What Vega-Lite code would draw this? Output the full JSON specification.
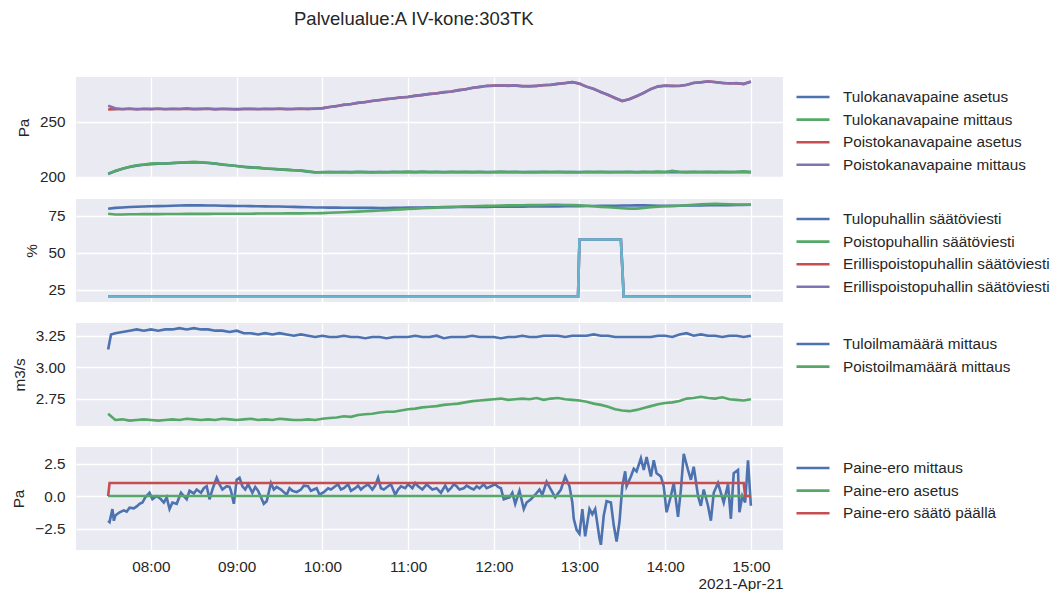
{
  "$schema": "https://vega.github.io/schema/vega-lite/v6.json",
  "background": "white",
  "padding": {"left": 11, "top": 9, "right": 5, "bottom": 2},
  "title": {
    "text": "Palvelualue:A IV-kone:303TK",
    "anchor": "start",
    "frame": "group",
    "dx": 218,
    "offset": 48,
    "font": "Liberation Sans",
    "fontSize": 18.5,
    "fontWeight": "normal",
    "color": "#262626"
  },
  "config": {
    "font": "Liberation Sans",
    "view": {"fill": "#EAEAF2", "stroke": null},
    "axis": {
      "domain": false,
      "ticks": false,
      "grid": true,
      "gridColor": "#FFFFFF",
      "gridWidth": 1.3,
      "labelFont": "Liberation Sans",
      "labelFontSize": 15.3,
      "labelColor": "#262626",
      "titleFont": "Liberation Sans",
      "titleFontSize": 15.3,
      "titleFontWeight": "normal",
      "titleColor": "#262626"
    },
    "axisY": {"labelPadding": 11, "titlePadding": 8},
    "legend": {
      "orient": "none",
      "title": null,
      "symbolType": "stroke",
      "symbolSize": 1089,
      "symbolStrokeWidth": 2.4,
      "clipHeight": 20,
      "rowPadding": 2.6,
      "labelOffset": 12,
      "labelFont": "Liberation Sans",
      "labelFontSize": 15.3,
      "labelColor": "#262626",
      "labelLimit": 400,
      "padding": 0
    },
    "line": {"strokeWidth": 2.6}
  },
  "bounds": "flush",
  "spacing": 21,
  "resolve": {"scale": {"x": "independent", "y": "independent", "color": "independent"}},
  "vconcat": [
    {
      "width": 707,
      "height": 101,
      "data": {
        "format": {"parse": {"t": "date:'%H:%M'"}},
        "values": [
          {"t": "07:30", "Tulokanavapaine asetus": 202.6, "Tulokanavapaine mittaus": 203.0, "Poistokanavapaine asetus": 261.0, "Poistokanavapaine mittaus": 264.5},
          {"t": "07:35", "Tulokanavapaine asetus": 205.2, "Tulokanavapaine mittaus": 205.6, "Poistokanavapaine asetus": 261.4, "Poistokanavapaine mittaus": 262.2},
          {"t": "07:40", "Tulokanavapaine asetus": 207.3, "Tulokanavapaine mittaus": 207.4, "Poistokanavapaine asetus": 261.5, "Poistokanavapaine mittaus": 261.3},
          {"t": "07:45", "Tulokanavapaine asetus": 208.9, "Tulokanavapaine mittaus": 209.1, "Poistokanavapaine asetus": 261.5, "Poistokanavapaine mittaus": 261.9},
          {"t": "07:50", "Tulokanavapaine asetus": 210.2, "Tulokanavapaine mittaus": 210.6, "Poistokanavapaine asetus": 261.5, "Poistokanavapaine mittaus": 261.0},
          {"t": "07:55", "Tulokanavapaine asetus": 211.0, "Tulokanavapaine mittaus": 211.2, "Poistokanavapaine asetus": 261.5, "Poistokanavapaine mittaus": 261.8},
          {"t": "08:00", "Tulokanavapaine asetus": 211.6, "Tulokanavapaine mittaus": 212.0, "Poistokanavapaine asetus": 261.5, "Poistokanavapaine mittaus": 261.4},
          {"t": "08:05", "Tulokanavapaine asetus": 212.0, "Tulokanavapaine mittaus": 212.3, "Poistokanavapaine asetus": 261.5, "Poistokanavapaine mittaus": 262.0},
          {"t": "08:10", "Tulokanavapaine asetus": 212.2, "Tulokanavapaine mittaus": 211.9, "Poistokanavapaine asetus": 261.5, "Poistokanavapaine mittaus": 261.3},
          {"t": "08:15", "Tulokanavapaine asetus": 212.5, "Tulokanavapaine mittaus": 212.6, "Poistokanavapaine asetus": 261.5, "Poistokanavapaine mittaus": 261.7},
          {"t": "08:20", "Tulokanavapaine asetus": 212.8, "Tulokanavapaine mittaus": 213.1, "Poistokanavapaine asetus": 261.5, "Poistokanavapaine mittaus": 261.5},
          {"t": "08:25", "Tulokanavapaine asetus": 213.0, "Tulokanavapaine mittaus": 213.3, "Poistokanavapaine asetus": 261.5, "Poistokanavapaine mittaus": 262.1},
          {"t": "08:30", "Tulokanavapaine asetus": 213.2, "Tulokanavapaine mittaus": 213.7, "Poistokanavapaine asetus": 261.5, "Poistokanavapaine mittaus": 261.4},
          {"t": "08:35", "Tulokanavapaine asetus": 213.0, "Tulokanavapaine mittaus": 213.2, "Poistokanavapaine asetus": 261.5, "Poistokanavapaine mittaus": 261.6},
          {"t": "08:40", "Tulokanavapaine asetus": 212.6, "Tulokanavapaine mittaus": 212.8, "Poistokanavapaine asetus": 261.5, "Poistokanavapaine mittaus": 261.9},
          {"t": "08:45", "Tulokanavapaine asetus": 212.0, "Tulokanavapaine mittaus": 212.2, "Poistokanavapaine asetus": 261.5, "Poistokanavapaine mittaus": 261.2},
          {"t": "08:50", "Tulokanavapaine asetus": 211.3, "Tulokanavapaine mittaus": 211.0, "Poistokanavapaine asetus": 261.5, "Poistokanavapaine mittaus": 261.7},
          {"t": "08:55", "Tulokanavapaine asetus": 210.6, "Tulokanavapaine mittaus": 210.5, "Poistokanavapaine asetus": 261.5, "Poistokanavapaine mittaus": 261.4},
          {"t": "09:00", "Tulokanavapaine asetus": 209.9, "Tulokanavapaine mittaus": 209.8, "Poistokanavapaine asetus": 261.5, "Poistokanavapaine mittaus": 261.0},
          {"t": "09:05", "Tulokanavapaine asetus": 209.2, "Tulokanavapaine mittaus": 209.0, "Poistokanavapaine asetus": 261.5, "Poistokanavapaine mittaus": 261.6},
          {"t": "09:10", "Tulokanavapaine asetus": 208.6, "Tulokanavapaine mittaus": 208.3, "Poistokanavapaine asetus": 261.5, "Poistokanavapaine mittaus": 261.8},
          {"t": "09:15", "Tulokanavapaine asetus": 208.1, "Tulokanavapaine mittaus": 208.6, "Poistokanavapaine asetus": 261.5, "Poistokanavapaine mittaus": 261.3},
          {"t": "09:20", "Tulokanavapaine asetus": 207.6, "Tulokanavapaine mittaus": 207.6, "Poistokanavapaine asetus": 261.5, "Poistokanavapaine mittaus": 261.7},
          {"t": "09:25", "Tulokanavapaine asetus": 207.2, "Tulokanavapaine mittaus": 207.4, "Poistokanavapaine asetus": 261.5, "Poistokanavapaine mittaus": 261.5},
          {"t": "09:30", "Tulokanavapaine asetus": 206.8, "Tulokanavapaine mittaus": 206.8, "Poistokanavapaine asetus": 261.5, "Poistokanavapaine mittaus": 261.9},
          {"t": "09:35", "Tulokanavapaine asetus": 206.4, "Tulokanavapaine mittaus": 206.6, "Poistokanavapaine asetus": 261.5, "Poistokanavapaine mittaus": 261.4},
          {"t": "09:40", "Tulokanavapaine asetus": 206.0, "Tulokanavapaine mittaus": 206.0, "Poistokanavapaine asetus": 261.5, "Poistokanavapaine mittaus": 261.6},
          {"t": "09:45", "Tulokanavapaine asetus": 205.5, "Tulokanavapaine mittaus": 205.9, "Poistokanavapaine asetus": 261.5, "Poistokanavapaine mittaus": 262.0},
          {"t": "09:50", "Tulokanavapaine asetus": 204.8, "Tulokanavapaine mittaus": 205.0, "Poistokanavapaine asetus": 261.6, "Poistokanavapaine mittaus": 261.5},
          {"t": "09:55", "Tulokanavapaine asetus": 204.2, "Tulokanavapaine mittaus": 204.0, "Poistokanavapaine asetus": 261.8, "Poistokanavapaine mittaus": 261.9},
          {"t": "10:00", "Tulokanavapaine asetus": 204.2, "Tulokanavapaine mittaus": 204.3, "Poistokanavapaine asetus": 262.3, "Poistokanavapaine mittaus": 262.1},
          {"t": "10:05", "Tulokanavapaine asetus": 204.3, "Tulokanavapaine mittaus": 204.5, "Poistokanavapaine asetus": 263.3, "Poistokanavapaine mittaus": 263.4},
          {"t": "10:10", "Tulokanavapaine asetus": 204.3, "Tulokanavapaine mittaus": 204.2, "Poistokanavapaine asetus": 264.2, "Poistokanavapaine mittaus": 264.0},
          {"t": "10:15", "Tulokanavapaine asetus": 204.3, "Tulokanavapaine mittaus": 204.4, "Poistokanavapaine asetus": 265.2, "Poistokanavapaine mittaus": 265.5},
          {"t": "10:20", "Tulokanavapaine asetus": 204.3, "Tulokanavapaine mittaus": 204.1, "Poistokanavapaine asetus": 266.0, "Poistokanavapaine mittaus": 265.8},
          {"t": "10:25", "Tulokanavapaine asetus": 204.3, "Tulokanavapaine mittaus": 204.6, "Poistokanavapaine asetus": 267.0, "Poistokanavapaine mittaus": 267.3},
          {"t": "10:30", "Tulokanavapaine asetus": 204.3, "Tulokanavapaine mittaus": 204.3, "Poistokanavapaine asetus": 267.8, "Poistokanavapaine mittaus": 267.6},
          {"t": "10:35", "Tulokanavapaine asetus": 204.3, "Tulokanavapaine mittaus": 204.0, "Poistokanavapaine asetus": 268.7, "Poistokanavapaine mittaus": 269.0},
          {"t": "10:40", "Tulokanavapaine asetus": 204.3, "Tulokanavapaine mittaus": 204.5, "Poistokanavapaine asetus": 269.6, "Poistokanavapaine mittaus": 269.4},
          {"t": "10:45", "Tulokanavapaine asetus": 204.3, "Tulokanavapaine mittaus": 204.2, "Poistokanavapaine asetus": 270.4, "Poistokanavapaine mittaus": 270.7},
          {"t": "10:50", "Tulokanavapaine asetus": 204.3, "Tulokanavapaine mittaus": 204.6, "Poistokanavapaine asetus": 271.2, "Poistokanavapaine mittaus": 271.0},
          {"t": "10:55", "Tulokanavapaine asetus": 204.3, "Tulokanavapaine mittaus": 204.4, "Poistokanavapaine asetus": 271.9, "Poistokanavapaine mittaus": 272.2},
          {"t": "11:00", "Tulokanavapaine asetus": 204.3, "Tulokanavapaine mittaus": 204.8, "Poistokanavapaine asetus": 272.5, "Poistokanavapaine mittaus": 272.4},
          {"t": "11:05", "Tulokanavapaine asetus": 204.3, "Tulokanavapaine mittaus": 204.3, "Poistokanavapaine asetus": 273.4, "Poistokanavapaine mittaus": 273.7},
          {"t": "11:10", "Tulokanavapaine asetus": 204.3, "Tulokanavapaine mittaus": 204.9, "Poistokanavapaine asetus": 274.3, "Poistokanavapaine mittaus": 274.1},
          {"t": "11:15", "Tulokanavapaine asetus": 204.3, "Tulokanavapaine mittaus": 204.5, "Poistokanavapaine asetus": 275.0, "Poistokanavapaine mittaus": 275.3},
          {"t": "11:20", "Tulokanavapaine asetus": 204.3, "Tulokanavapaine mittaus": 204.7, "Poistokanavapaine asetus": 275.8, "Poistokanavapaine mittaus": 275.6},
          {"t": "11:25", "Tulokanavapaine asetus": 204.3, "Tulokanavapaine mittaus": 204.2, "Poistokanavapaine asetus": 276.6, "Poistokanavapaine mittaus": 276.9},
          {"t": "11:30", "Tulokanavapaine asetus": 204.3, "Tulokanavapaine mittaus": 204.6, "Poistokanavapaine asetus": 277.4, "Poistokanavapaine mittaus": 277.2},
          {"t": "11:35", "Tulokanavapaine asetus": 204.3, "Tulokanavapaine mittaus": 204.4, "Poistokanavapaine asetus": 278.4, "Poistokanavapaine mittaus": 278.6},
          {"t": "11:40", "Tulokanavapaine asetus": 204.3, "Tulokanavapaine mittaus": 204.7, "Poistokanavapaine asetus": 279.4, "Poistokanavapaine mittaus": 279.1},
          {"t": "11:45", "Tulokanavapaine asetus": 204.3, "Tulokanavapaine mittaus": 204.3, "Poistokanavapaine asetus": 280.5, "Poistokanavapaine mittaus": 280.8},
          {"t": "11:50", "Tulokanavapaine asetus": 204.3, "Tulokanavapaine mittaus": 204.6, "Poistokanavapaine asetus": 281.6, "Poistokanavapaine mittaus": 281.3},
          {"t": "11:55", "Tulokanavapaine asetus": 204.3, "Tulokanavapaine mittaus": 204.2, "Poistokanavapaine asetus": 282.3, "Poistokanavapaine mittaus": 282.5},
          {"t": "12:00", "Tulokanavapaine asetus": 204.3, "Tulokanavapaine mittaus": 204.5, "Poistokanavapaine asetus": 282.7, "Poistokanavapaine mittaus": 282.6},
          {"t": "12:05", "Tulokanavapaine asetus": 204.3, "Tulokanavapaine mittaus": 204.8, "Poistokanavapaine asetus": 282.8, "Poistokanavapaine mittaus": 283.0},
          {"t": "12:10", "Tulokanavapaine asetus": 204.3, "Tulokanavapaine mittaus": 204.4, "Poistokanavapaine asetus": 282.7, "Poistokanavapaine mittaus": 282.5},
          {"t": "12:15", "Tulokanavapaine asetus": 204.3, "Tulokanavapaine mittaus": 204.6, "Poistokanavapaine asetus": 282.7, "Poistokanavapaine mittaus": 282.9},
          {"t": "12:20", "Tulokanavapaine asetus": 204.3, "Tulokanavapaine mittaus": 204.2, "Poistokanavapaine asetus": 282.3, "Poistokanavapaine mittaus": 282.0},
          {"t": "12:25", "Tulokanavapaine asetus": 204.3, "Tulokanavapaine mittaus": 204.5, "Poistokanavapaine asetus": 282.0, "Poistokanavapaine mittaus": 282.3},
          {"t": "12:30", "Tulokanavapaine asetus": 204.3, "Tulokanavapaine mittaus": 204.3, "Poistokanavapaine asetus": 282.5, "Poistokanavapaine mittaus": 282.3},
          {"t": "12:35", "Tulokanavapaine asetus": 204.3, "Tulokanavapaine mittaus": 204.6, "Poistokanavapaine asetus": 283.0, "Poistokanavapaine mittaus": 283.2},
          {"t": "12:40", "Tulokanavapaine asetus": 204.3, "Tulokanavapaine mittaus": 204.4, "Poistokanavapaine asetus": 283.5, "Poistokanavapaine mittaus": 283.4},
          {"t": "12:45", "Tulokanavapaine asetus": 204.3, "Tulokanavapaine mittaus": 204.7, "Poistokanavapaine asetus": 284.2, "Poistokanavapaine mittaus": 284.5},
          {"t": "12:50", "Tulokanavapaine asetus": 204.3, "Tulokanavapaine mittaus": 204.3, "Poistokanavapaine asetus": 285.0, "Poistokanavapaine mittaus": 284.8},
          {"t": "12:55", "Tulokanavapaine asetus": 204.3, "Tulokanavapaine mittaus": 204.5, "Poistokanavapaine asetus": 285.8, "Poistokanavapaine mittaus": 286.0},
          {"t": "13:00", "Tulokanavapaine asetus": 204.3, "Tulokanavapaine mittaus": 204.2, "Poistokanavapaine asetus": 284.3, "Poistokanavapaine mittaus": 284.6},
          {"t": "13:05", "Tulokanavapaine asetus": 204.3, "Tulokanavapaine mittaus": 204.6, "Poistokanavapaine asetus": 281.8, "Poistokanavapaine mittaus": 281.6},
          {"t": "13:10", "Tulokanavapaine asetus": 204.3, "Tulokanavapaine mittaus": 204.4, "Poistokanavapaine asetus": 279.5, "Poistokanavapaine mittaus": 279.8},
          {"t": "13:15", "Tulokanavapaine asetus": 204.3, "Tulokanavapaine mittaus": 204.7, "Poistokanavapaine asetus": 277.0, "Poistokanavapaine mittaus": 276.7},
          {"t": "13:20", "Tulokanavapaine asetus": 204.3, "Tulokanavapaine mittaus": 204.3, "Poistokanavapaine asetus": 274.2, "Poistokanavapaine mittaus": 274.5},
          {"t": "13:25", "Tulokanavapaine asetus": 204.3, "Tulokanavapaine mittaus": 204.5, "Poistokanavapaine asetus": 271.5, "Poistokanavapaine mittaus": 271.3},
          {"t": "13:30", "Tulokanavapaine asetus": 204.3, "Tulokanavapaine mittaus": 204.4, "Poistokanavapaine asetus": 268.6, "Poistokanavapaine mittaus": 268.9},
          {"t": "13:35", "Tulokanavapaine asetus": 204.3, "Tulokanavapaine mittaus": 204.7, "Poistokanavapaine asetus": 270.5, "Poistokanavapaine mittaus": 270.3},
          {"t": "13:40", "Tulokanavapaine asetus": 204.3, "Tulokanavapaine mittaus": 204.2, "Poistokanavapaine asetus": 273.0, "Poistokanavapaine mittaus": 273.3},
          {"t": "13:45", "Tulokanavapaine asetus": 204.3, "Tulokanavapaine mittaus": 204.6, "Poistokanavapaine asetus": 276.3, "Poistokanavapaine mittaus": 276.0},
          {"t": "13:50", "Tulokanavapaine asetus": 204.3, "Tulokanavapaine mittaus": 204.4, "Poistokanavapaine asetus": 279.5, "Poistokanavapaine mittaus": 279.7},
          {"t": "13:55", "Tulokanavapaine asetus": 204.3, "Tulokanavapaine mittaus": 204.8, "Poistokanavapaine asetus": 282.0, "Poistokanavapaine mittaus": 281.8},
          {"t": "14:00", "Tulokanavapaine asetus": 204.3, "Tulokanavapaine mittaus": 204.5, "Poistokanavapaine asetus": 282.6, "Poistokanavapaine mittaus": 282.8},
          {"t": "14:05", "Tulokanavapaine asetus": 204.3, "Tulokanavapaine mittaus": 205.4, "Poistokanavapaine asetus": 282.5, "Poistokanavapaine mittaus": 282.3},
          {"t": "14:10", "Tulokanavapaine asetus": 204.3, "Tulokanavapaine mittaus": 204.6, "Poistokanavapaine asetus": 282.4, "Poistokanavapaine mittaus": 282.6},
          {"t": "14:15", "Tulokanavapaine asetus": 204.3, "Tulokanavapaine mittaus": 204.3, "Poistokanavapaine asetus": 283.5, "Poistokanavapaine mittaus": 283.3},
          {"t": "14:20", "Tulokanavapaine asetus": 204.3, "Tulokanavapaine mittaus": 204.7, "Poistokanavapaine asetus": 285.0, "Poistokanavapaine mittaus": 285.3},
          {"t": "14:25", "Tulokanavapaine asetus": 204.3, "Tulokanavapaine mittaus": 204.4, "Poistokanavapaine asetus": 285.8, "Poistokanavapaine mittaus": 285.6},
          {"t": "14:30", "Tulokanavapaine asetus": 204.3, "Tulokanavapaine mittaus": 204.6, "Poistokanavapaine asetus": 286.4, "Poistokanavapaine mittaus": 286.6},
          {"t": "14:35", "Tulokanavapaine asetus": 204.3, "Tulokanavapaine mittaus": 204.3, "Poistokanavapaine asetus": 286.0, "Poistokanavapaine mittaus": 285.8},
          {"t": "14:40", "Tulokanavapaine asetus": 204.3, "Tulokanavapaine mittaus": 204.7, "Poistokanavapaine asetus": 285.0, "Poistokanavapaine mittaus": 285.2},
          {"t": "14:45", "Tulokanavapaine asetus": 204.3, "Tulokanavapaine mittaus": 204.4, "Poistokanavapaine asetus": 284.8, "Poistokanavapaine mittaus": 284.6},
          {"t": "14:50", "Tulokanavapaine asetus": 204.3, "Tulokanavapaine mittaus": 204.6, "Poistokanavapaine asetus": 284.7, "Poistokanavapaine mittaus": 285.0},
          {"t": "14:55", "Tulokanavapaine asetus": 204.3, "Tulokanavapaine mittaus": 205.0, "Poistokanavapaine asetus": 284.3, "Poistokanavapaine mittaus": 284.1},
          {"t": "15:00", "Tulokanavapaine asetus": 204.3, "Tulokanavapaine mittaus": 204.3, "Poistokanavapaine asetus": 286.3, "Poistokanavapaine mittaus": 286.5}
        ]
      },
      "transform": [
        {"fold": ["Tulokanavapaine asetus", "Tulokanavapaine mittaus", "Poistokanavapaine asetus", "Poistokanavapaine mittaus"], "as": ["serie", "arvo"]},
        {"filter": "isValid(datum.arvo)"}
      ],
      "mark": {"type": "line"},
      "encoding": {
        "x": {
          "field": "t", "type": "temporal",
          "scale": {"domain": [{"year": 1900, "month": 1, "date": 1, "hours": 7, "minutes": 7, "seconds": 30}, {"year": 1900, "month": 1, "date": 1, "hours": 15, "minutes": 22, "seconds": 30}]},
          "axis": {"labels": false, "title": null, "values": [{"year": 1900, "month": 1, "date": 1, "hours": 8}, {"year": 1900, "month": 1, "date": 1, "hours": 9}, {"year": 1900, "month": 1, "date": 1, "hours": 10}, {"year": 1900, "month": 1, "date": 1, "hours": 11}, {"year": 1900, "month": 1, "date": 1, "hours": 12}, {"year": 1900, "month": 1, "date": 1, "hours": 13}, {"year": 1900, "month": 1, "date": 1, "hours": 14}, {"year": 1900, "month": 1, "date": 1, "hours": 15}]}
        },
        "y": {
          "field": "arvo", "type": "quantitative",
          "scale": {"domain": [199, 290.5], "nice": false, "zero": false},
          "axis": {"title": "Pa", "values": [200, 250]}
        },
        "color": {
          "field": "serie", "type": "nominal",
          "scale": {"domain": ["Tulokanavapaine asetus", "Tulokanavapaine mittaus", "Poistokanavapaine asetus", "Poistokanavapaine mittaus"], "range": ["#4C72B0", "#55A868", "#C44E52", "#8172B2"]},
          "legend": {"legendX": 719, "legendY": 10}
        }
      }
    },
    {
      "width": 707,
      "height": 103,
      "data": {
        "format": {"parse": {"t": "date:'%H:%M'"}},
        "values": [
          {"t": "07:30", "Tulopuhallin säätöviesti": 79.7, "Poistopuhallin säätöviesti": 76.4, "Erillispoistopuhallin säätöviesti 1": 20.5, "Erillispoistopuhallin säätöviesti 2": 20.5, "Erillispoistopuhallin säätöviesti 3": 20.5},
          {"t": "07:35", "Tulopuhallin säätöviesti": 80.3, "Poistopuhallin säätöviesti": 75.9},
          {"t": "07:40", "Tulopuhallin säätöviesti": 80.6, "Poistopuhallin säätöviesti": 75.9},
          {"t": "07:45", "Tulopuhallin säätöviesti": 80.9, "Poistopuhallin säätöviesti": 76.0},
          {"t": "07:50", "Tulopuhallin säätöviesti": 81.1, "Poistopuhallin säätöviesti": 76.0},
          {"t": "07:55", "Tulopuhallin säätöviesti": 81.2, "Poistopuhallin säätöviesti": 76.1},
          {"t": "08:00", "Tulopuhallin säätöviesti": 81.4, "Poistopuhallin säätöviesti": 76.1},
          {"t": "08:05", "Tulopuhallin säätöviesti": 81.5, "Poistopuhallin säätöviesti": 76.1},
          {"t": "08:10", "Tulopuhallin säätöviesti": 81.6, "Poistopuhallin säätöviesti": 76.2},
          {"t": "08:15", "Tulopuhallin säätöviesti": 81.8, "Poistopuhallin säätöviesti": 76.2},
          {"t": "08:20", "Tulopuhallin säätöviesti": 81.9, "Poistopuhallin säätöviesti": 76.2},
          {"t": "08:25", "Tulopuhallin säätöviesti": 82.0, "Poistopuhallin säätöviesti": 76.3},
          {"t": "08:30", "Tulopuhallin säätöviesti": 82.0, "Poistopuhallin säätöviesti": 76.3},
          {"t": "08:35", "Tulopuhallin säätöviesti": 82.0, "Poistopuhallin säätöviesti": 76.3},
          {"t": "08:40", "Tulopuhallin säätöviesti": 81.9, "Poistopuhallin säätöviesti": 76.3},
          {"t": "08:45", "Tulopuhallin säätöviesti": 81.9, "Poistopuhallin säätöviesti": 76.4},
          {"t": "08:50", "Tulopuhallin säätöviesti": 81.8, "Poistopuhallin säätöviesti": 76.4},
          {"t": "08:55", "Tulopuhallin säätöviesti": 81.7, "Poistopuhallin säätöviesti": 76.4},
          {"t": "09:00", "Tulopuhallin säätöviesti": 81.6, "Poistopuhallin säätöviesti": 76.4},
          {"t": "09:05", "Tulopuhallin säätöviesti": 81.6, "Poistopuhallin säätöviesti": 76.4},
          {"t": "09:10", "Tulopuhallin säätöviesti": 81.5, "Poistopuhallin säätöviesti": 76.4},
          {"t": "09:15", "Tulopuhallin säätöviesti": 81.4, "Poistopuhallin säätöviesti": 76.5},
          {"t": "09:20", "Tulopuhallin säätöviesti": 81.3, "Poistopuhallin säätöviesti": 76.5},
          {"t": "09:25", "Tulopuhallin säätöviesti": 81.2, "Poistopuhallin säätöviesti": 76.5},
          {"t": "09:30", "Tulopuhallin säätöviesti": 81.2, "Poistopuhallin säätöviesti": 76.5},
          {"t": "09:35", "Tulopuhallin säätöviesti": 81.1, "Poistopuhallin säätöviesti": 76.6},
          {"t": "09:40", "Tulopuhallin säätöviesti": 81.0, "Poistopuhallin säätöviesti": 76.6},
          {"t": "09:45", "Tulopuhallin säätöviesti": 80.8, "Poistopuhallin säätöviesti": 76.6},
          {"t": "09:50", "Tulopuhallin säätöviesti": 80.7, "Poistopuhallin säätöviesti": 76.7},
          {"t": "09:55", "Tulopuhallin säätöviesti": 80.6, "Poistopuhallin säätöviesti": 76.7},
          {"t": "10:00", "Tulopuhallin säätöviesti": 80.6, "Poistopuhallin säätöviesti": 76.8},
          {"t": "10:05", "Tulopuhallin säätöviesti": 80.5, "Poistopuhallin säätöviesti": 77.0},
          {"t": "10:10", "Tulopuhallin säätöviesti": 80.5, "Poistopuhallin säätöviesti": 77.2},
          {"t": "10:15", "Tulopuhallin säätöviesti": 80.4, "Poistopuhallin säätöviesti": 77.4},
          {"t": "10:20", "Tulopuhallin säätöviesti": 80.4, "Poistopuhallin säätöviesti": 77.6},
          {"t": "10:25", "Tulopuhallin säätöviesti": 80.3, "Poistopuhallin säätöviesti": 77.8},
          {"t": "10:30", "Tulopuhallin säätöviesti": 80.3, "Poistopuhallin säätöviesti": 78.0},
          {"t": "10:35", "Tulopuhallin säätöviesti": 80.3, "Poistopuhallin säätöviesti": 78.3},
          {"t": "10:40", "Tulopuhallin säätöviesti": 80.2, "Poistopuhallin säätöviesti": 78.5},
          {"t": "10:45", "Tulopuhallin säätöviesti": 80.2, "Poistopuhallin säätöviesti": 78.8},
          {"t": "10:50", "Tulopuhallin säätöviesti": 80.3, "Poistopuhallin säätöviesti": 79.1},
          {"t": "10:55", "Tulopuhallin säätöviesti": 80.4, "Poistopuhallin säätöviesti": 79.3},
          {"t": "11:00", "Tulopuhallin säätöviesti": 80.5, "Poistopuhallin säätöviesti": 79.6},
          {"t": "11:05", "Tulopuhallin säätöviesti": 80.6, "Poistopuhallin säätöviesti": 79.8},
          {"t": "11:10", "Tulopuhallin säätöviesti": 80.6, "Poistopuhallin säätöviesti": 80.1},
          {"t": "11:15", "Tulopuhallin säätöviesti": 80.7, "Poistopuhallin säätöviesti": 80.3},
          {"t": "11:20", "Tulopuhallin säätöviesti": 80.7, "Poistopuhallin säätöviesti": 80.5},
          {"t": "11:25", "Tulopuhallin säätöviesti": 80.8, "Poistopuhallin säätöviesti": 80.7},
          {"t": "11:30", "Tulopuhallin säätöviesti": 80.8, "Poistopuhallin säätöviesti": 80.9},
          {"t": "11:35", "Tulopuhallin säätöviesti": 80.9, "Poistopuhallin säätöviesti": 81.1},
          {"t": "11:40", "Tulopuhallin säätöviesti": 80.9, "Poistopuhallin säätöviesti": 81.3},
          {"t": "11:45", "Tulopuhallin säätöviesti": 81.0, "Poistopuhallin säätöviesti": 81.4},
          {"t": "11:50", "Tulopuhallin säätöviesti": 81.0, "Poistopuhallin säätöviesti": 81.6},
          {"t": "11:55", "Tulopuhallin säätöviesti": 81.0, "Poistopuhallin säätöviesti": 81.7},
          {"t": "12:00", "Tulopuhallin säätöviesti": 81.1, "Poistopuhallin säätöviesti": 81.8},
          {"t": "12:05", "Tulopuhallin säätöviesti": 81.1, "Poistopuhallin säätöviesti": 81.9},
          {"t": "12:10", "Tulopuhallin säätöviesti": 81.1, "Poistopuhallin säätöviesti": 82.0},
          {"t": "12:15", "Tulopuhallin säätöviesti": 81.1, "Poistopuhallin säätöviesti": 82.0},
          {"t": "12:20", "Tulopuhallin säätöviesti": 81.1, "Poistopuhallin säätöviesti": 82.1},
          {"t": "12:25", "Tulopuhallin säätöviesti": 81.2, "Poistopuhallin säätöviesti": 82.2},
          {"t": "12:30", "Tulopuhallin säätöviesti": 81.2, "Poistopuhallin säätöviesti": 82.2},
          {"t": "12:35", "Tulopuhallin säätöviesti": 81.2, "Poistopuhallin säätöviesti": 82.3},
          {"t": "12:40", "Tulopuhallin säätöviesti": 81.3, "Poistopuhallin säätöviesti": 82.4},
          {"t": "12:45", "Tulopuhallin säätöviesti": 81.3, "Poistopuhallin säätöviesti": 82.4},
          {"t": "12:50", "Tulopuhallin säätöviesti": 81.4, "Poistopuhallin säätöviesti": 82.3},
          {"t": "12:55", "Tulopuhallin säätöviesti": 81.4, "Poistopuhallin säätöviesti": 82.2},
          {"t": "12:59", "Erillispoistopuhallin säätöviesti 1": 20.5, "Erillispoistopuhallin säätöviesti 2": 20.5, "Erillispoistopuhallin säätöviesti 3": 20.5},
          {"t": "13:00", "Tulopuhallin säätöviesti": 81.5, "Poistopuhallin säätöviesti": 82.0, "Erillispoistopuhallin säätöviesti 1": 59.0, "Erillispoistopuhallin säätöviesti 2": 59.0, "Erillispoistopuhallin säätöviesti 3": 59.0},
          {"t": "13:05", "Tulopuhallin säätöviesti": 81.6, "Poistopuhallin säätöviesti": 81.7},
          {"t": "13:10", "Tulopuhallin säätöviesti": 81.6, "Poistopuhallin säätöviesti": 81.4},
          {"t": "13:15", "Tulopuhallin säätöviesti": 81.7, "Poistopuhallin säätöviesti": 81.0},
          {"t": "13:20", "Tulopuhallin säätöviesti": 81.8, "Poistopuhallin säätöviesti": 80.7},
          {"t": "13:25", "Tulopuhallin säätöviesti": 81.8, "Poistopuhallin säätöviesti": 80.4},
          {"t": "13:29", "Erillispoistopuhallin säätöviesti 1": 59.0, "Erillispoistopuhallin säätöviesti 2": 59.0, "Erillispoistopuhallin säätöviesti 3": 59.0},
          {"t": "13:30", "Tulopuhallin säätöviesti": 81.9, "Poistopuhallin säätöviesti": 80.1},
          {"t": "13:31", "Erillispoistopuhallin säätöviesti 1": 20.5, "Erillispoistopuhallin säätöviesti 2": 20.5, "Erillispoistopuhallin säätöviesti 3": 20.5},
          {"t": "13:35", "Tulopuhallin säätöviesti": 81.9, "Poistopuhallin säätöviesti": 79.8},
          {"t": "13:40", "Tulopuhallin säätöviesti": 82.0, "Poistopuhallin säätöviesti": 79.8},
          {"t": "13:45", "Tulopuhallin säätöviesti": 82.0, "Poistopuhallin säätöviesti": 80.2},
          {"t": "13:50", "Tulopuhallin säätöviesti": 81.9, "Poistopuhallin säätöviesti": 80.7},
          {"t": "13:55", "Tulopuhallin säätöviesti": 81.8, "Poistopuhallin säätöviesti": 81.1},
          {"t": "14:00", "Tulopuhallin säätöviesti": 81.7, "Poistopuhallin säätöviesti": 81.4},
          {"t": "14:05", "Tulopuhallin säätöviesti": 81.7, "Poistopuhallin säätöviesti": 81.6},
          {"t": "14:10", "Tulopuhallin säätöviesti": 81.8, "Poistopuhallin säätöviesti": 81.8},
          {"t": "14:15", "Tulopuhallin säätöviesti": 81.9, "Poistopuhallin säätöviesti": 82.1},
          {"t": "14:20", "Tulopuhallin säätöviesti": 82.0, "Poistopuhallin säätöviesti": 82.4},
          {"t": "14:25", "Tulopuhallin säätöviesti": 82.0, "Poistopuhallin säätöviesti": 82.7},
          {"t": "14:30", "Tulopuhallin säätöviesti": 82.1, "Poistopuhallin säätöviesti": 82.9},
          {"t": "14:35", "Tulopuhallin säätöviesti": 82.1, "Poistopuhallin säätöviesti": 83.0},
          {"t": "14:40", "Tulopuhallin säätöviesti": 82.2, "Poistopuhallin säätöviesti": 82.9},
          {"t": "14:45", "Tulopuhallin säätöviesti": 82.2, "Poistopuhallin säätöviesti": 82.8},
          {"t": "14:50", "Tulopuhallin säätöviesti": 82.3, "Poistopuhallin säätöviesti": 82.6},
          {"t": "14:55", "Tulopuhallin säätöviesti": 82.3, "Poistopuhallin säätöviesti": 82.5},
          {"t": "15:00", "Tulopuhallin säätöviesti": 82.4, "Poistopuhallin säätöviesti": 82.5, "Erillispoistopuhallin säätöviesti 1": 20.5, "Erillispoistopuhallin säätöviesti 2": 20.5, "Erillispoistopuhallin säätöviesti 3": 20.5}
        ]
      },
      "transform": [
        {"fold": ["Tulopuhallin säätöviesti", "Poistopuhallin säätöviesti", "Erillispoistopuhallin säätöviesti 1", "Erillispoistopuhallin säätöviesti 2", "Erillispoistopuhallin säätöviesti 3"], "as": ["serie", "arvo"]},
        {"filter": "isValid(datum.arvo)"}
      ],
      "mark": {"type": "line"},
      "encoding": {
        "x": {
          "field": "t", "type": "temporal",
          "scale": {"domain": [{"year": 1900, "month": 1, "date": 1, "hours": 7, "minutes": 7, "seconds": 30}, {"year": 1900, "month": 1, "date": 1, "hours": 15, "minutes": 22, "seconds": 30}]},
          "axis": {"labels": false, "title": null, "values": [{"year": 1900, "month": 1, "date": 1, "hours": 8}, {"year": 1900, "month": 1, "date": 1, "hours": 9}, {"year": 1900, "month": 1, "date": 1, "hours": 10}, {"year": 1900, "month": 1, "date": 1, "hours": 11}, {"year": 1900, "month": 1, "date": 1, "hours": 12}, {"year": 1900, "month": 1, "date": 1, "hours": 13}, {"year": 1900, "month": 1, "date": 1, "hours": 14}, {"year": 1900, "month": 1, "date": 1, "hours": 15}]}
        },
        "y": {
          "field": "arvo", "type": "quantitative",
          "scale": {"domain": [16.9, 86.3], "nice": false, "zero": false},
          "axis": {"title": "%", "values": [25, 50, 75]}
        },
        "color": {
          "field": "serie", "type": "nominal",
          "scale": {"domain": ["Tulopuhallin säätöviesti", "Poistopuhallin säätöviesti", "Erillispoistopuhallin säätöviesti 1", "Erillispoistopuhallin säätöviesti 2", "Erillispoistopuhallin säätöviesti 3"], "range": ["#4C72B0", "#55A868", "#C44E52", "#8172B2", "#64B5CD"]},
          "legend": {
            "legendX": 719, "legendY": 10,
            "values": ["Tulopuhallin säätöviesti", "Poistopuhallin säätöviesti", "Erillispoistopuhallin säätöviesti 1", "Erillispoistopuhallin säätöviesti 2"],
            "labelExpr": "replace(datum.label, regexp(' [0-9]$'), '')"
          }
        }
      }
    },
    {
      "width": 707,
      "height": 103,
      "data": {
        "format": {"parse": {"t": "date:'%H:%M'"}},
        "values": [
          {"t": "07:30", "Tuloilmamäärä mittaus": 3.14, "Poistoilmamäärä mittaus": 2.63},
          {"t": "07:32", "Tuloilmamäärä mittaus": 3.26, "Poistoilmamäärä mittaus": 2.61},
          {"t": "07:35", "Tuloilmamäärä mittaus": 3.27, "Poistoilmamäärä mittaus": 2.58},
          {"t": "07:40", "Tuloilmamäärä mittaus": 3.28, "Poistoilmamäärä mittaus": 2.585},
          {"t": "07:45", "Tuloilmamäärä mittaus": 3.29, "Poistoilmamäärä mittaus": 2.575},
          {"t": "07:50", "Tuloilmamäärä mittaus": 3.30, "Poistoilmamäärä mittaus": 2.58},
          {"t": "07:55", "Tuloilmamäärä mittaus": 3.29, "Poistoilmamäärä mittaus": 2.585},
          {"t": "08:00", "Tuloilmamäärä mittaus": 3.30, "Poistoilmamäärä mittaus": 2.58},
          {"t": "08:05", "Tuloilmamäärä mittaus": 3.29, "Poistoilmamäärä mittaus": 2.575},
          {"t": "08:10", "Tuloilmamäärä mittaus": 3.30, "Poistoilmamäärä mittaus": 2.58},
          {"t": "08:15", "Tuloilmamäärä mittaus": 3.30, "Poistoilmamäärä mittaus": 2.585},
          {"t": "08:20", "Tuloilmamäärä mittaus": 3.31, "Poistoilmamäärä mittaus": 2.58},
          {"t": "08:25", "Tuloilmamäärä mittaus": 3.30, "Poistoilmamäärä mittaus": 2.59},
          {"t": "08:30", "Tuloilmamäärä mittaus": 3.31, "Poistoilmamäärä mittaus": 2.585},
          {"t": "08:35", "Tuloilmamäärä mittaus": 3.30, "Poistoilmamäärä mittaus": 2.58},
          {"t": "08:40", "Tuloilmamäärä mittaus": 3.30, "Poistoilmamäärä mittaus": 2.585},
          {"t": "08:45", "Tuloilmamäärä mittaus": 3.29, "Poistoilmamäärä mittaus": 2.58},
          {"t": "08:50", "Tuloilmamäärä mittaus": 3.29, "Poistoilmamäärä mittaus": 2.59},
          {"t": "08:55", "Tuloilmamäärä mittaus": 3.28, "Poistoilmamäärä mittaus": 2.585},
          {"t": "09:00", "Tuloilmamäärä mittaus": 3.29, "Poistoilmamäärä mittaus": 2.58},
          {"t": "09:05", "Tuloilmamäärä mittaus": 3.27, "Poistoilmamäärä mittaus": 2.585},
          {"t": "09:10", "Tuloilmamäärä mittaus": 3.27, "Poistoilmamäärä mittaus": 2.59},
          {"t": "09:15", "Tuloilmamäärä mittaus": 3.26, "Poistoilmamäärä mittaus": 2.58},
          {"t": "09:20", "Tuloilmamäärä mittaus": 3.27, "Poistoilmamäärä mittaus": 2.585},
          {"t": "09:25", "Tuloilmamäärä mittaus": 3.26, "Poistoilmamäärä mittaus": 2.58},
          {"t": "09:30", "Tuloilmamäärä mittaus": 3.27, "Poistoilmamäärä mittaus": 2.59},
          {"t": "09:35", "Tuloilmamäärä mittaus": 3.26, "Poistoilmamäärä mittaus": 2.585},
          {"t": "09:40", "Tuloilmamäärä mittaus": 3.25, "Poistoilmamäärä mittaus": 2.58},
          {"t": "09:45", "Tuloilmamäärä mittaus": 3.26, "Poistoilmamäärä mittaus": 2.58},
          {"t": "09:50", "Tuloilmamäärä mittaus": 3.25, "Poistoilmamäärä mittaus": 2.585},
          {"t": "09:55", "Tuloilmamäärä mittaus": 3.24, "Poistoilmamäärä mittaus": 2.58},
          {"t": "10:00", "Tuloilmamäärä mittaus": 3.25, "Poistoilmamäärä mittaus": 2.59},
          {"t": "10:05", "Tuloilmamäärä mittaus": 3.24, "Poistoilmamäärä mittaus": 2.595},
          {"t": "10:10", "Tuloilmamäärä mittaus": 3.24, "Poistoilmamäärä mittaus": 2.60},
          {"t": "10:15", "Tuloilmamäärä mittaus": 3.25, "Poistoilmamäärä mittaus": 2.61},
          {"t": "10:20", "Tuloilmamäärä mittaus": 3.24, "Poistoilmamäärä mittaus": 2.605},
          {"t": "10:25", "Tuloilmamäärä mittaus": 3.24, "Poistoilmamäärä mittaus": 2.62},
          {"t": "10:30", "Tuloilmamäärä mittaus": 3.23, "Poistoilmamäärä mittaus": 2.625},
          {"t": "10:35", "Tuloilmamäärä mittaus": 3.24, "Poistoilmamäärä mittaus": 2.63},
          {"t": "10:40", "Tuloilmamäärä mittaus": 3.24, "Poistoilmamäärä mittaus": 2.64},
          {"t": "10:45", "Tuloilmamäärä mittaus": 3.23, "Poistoilmamäärä mittaus": 2.645},
          {"t": "10:50", "Tuloilmamäärä mittaus": 3.24, "Poistoilmamäärä mittaus": 2.645},
          {"t": "10:55", "Tuloilmamäärä mittaus": 3.24, "Poistoilmamäärä mittaus": 2.655},
          {"t": "11:00", "Tuloilmamäärä mittaus": 3.24, "Poistoilmamäärä mittaus": 2.665},
          {"t": "11:05", "Tuloilmamäärä mittaus": 3.25, "Poistoilmamäärä mittaus": 2.67},
          {"t": "11:10", "Tuloilmamäärä mittaus": 3.24, "Poistoilmamäärä mittaus": 2.68},
          {"t": "11:15", "Tuloilmamäärä mittaus": 3.24, "Poistoilmamäärä mittaus": 2.685},
          {"t": "11:20", "Tuloilmamäärä mittaus": 3.25, "Poistoilmamäärä mittaus": 2.69},
          {"t": "11:25", "Tuloilmamäärä mittaus": 3.23, "Poistoilmamäärä mittaus": 2.70},
          {"t": "11:30", "Tuloilmamäärä mittaus": 3.24, "Poistoilmamäärä mittaus": 2.705},
          {"t": "11:35", "Tuloilmamäärä mittaus": 3.24, "Poistoilmamäärä mittaus": 2.71},
          {"t": "11:40", "Tuloilmamäärä mittaus": 3.24, "Poistoilmamäärä mittaus": 2.72},
          {"t": "11:45", "Tuloilmamäärä mittaus": 3.25, "Poistoilmamäärä mittaus": 2.73},
          {"t": "11:50", "Tuloilmamäärä mittaus": 3.24, "Poistoilmamäärä mittaus": 2.735},
          {"t": "11:55", "Tuloilmamäärä mittaus": 3.24, "Poistoilmamäärä mittaus": 2.74},
          {"t": "12:00", "Tuloilmamäärä mittaus": 3.24, "Poistoilmamäärä mittaus": 2.745},
          {"t": "12:05", "Tuloilmamäärä mittaus": 3.23, "Poistoilmamäärä mittaus": 2.75},
          {"t": "12:10", "Tuloilmamäärä mittaus": 3.24, "Poistoilmamäärä mittaus": 2.74},
          {"t": "12:15", "Tuloilmamäärä mittaus": 3.24, "Poistoilmamäärä mittaus": 2.745},
          {"t": "12:20", "Tuloilmamäärä mittaus": 3.25, "Poistoilmamäärä mittaus": 2.75},
          {"t": "12:25", "Tuloilmamäärä mittaus": 3.24, "Poistoilmamäärä mittaus": 2.745},
          {"t": "12:30", "Tuloilmamäärä mittaus": 3.24, "Poistoilmamäärä mittaus": 2.755},
          {"t": "12:35", "Tuloilmamäärä mittaus": 3.25, "Poistoilmamäärä mittaus": 2.74},
          {"t": "12:40", "Tuloilmamäärä mittaus": 3.25, "Poistoilmamäärä mittaus": 2.75},
          {"t": "12:45", "Tuloilmamäärä mittaus": 3.25, "Poistoilmamäärä mittaus": 2.755},
          {"t": "12:50", "Tuloilmamäärä mittaus": 3.24, "Poistoilmamäärä mittaus": 2.745},
          {"t": "12:55", "Tuloilmamäärä mittaus": 3.25, "Poistoilmamäärä mittaus": 2.74},
          {"t": "13:00", "Tuloilmamäärä mittaus": 3.25, "Poistoilmamäärä mittaus": 2.735},
          {"t": "13:05", "Tuloilmamäärä mittaus": 3.25, "Poistoilmamäärä mittaus": 2.725},
          {"t": "13:10", "Tuloilmamäärä mittaus": 3.26, "Poistoilmamäärä mittaus": 2.71},
          {"t": "13:15", "Tuloilmamäärä mittaus": 3.25, "Poistoilmamäärä mittaus": 2.70},
          {"t": "13:20", "Tuloilmamäärä mittaus": 3.25, "Poistoilmamäärä mittaus": 2.685},
          {"t": "13:25", "Tuloilmamäärä mittaus": 3.24, "Poistoilmamäärä mittaus": 2.665},
          {"t": "13:30", "Tuloilmamäärä mittaus": 3.24, "Poistoilmamäärä mittaus": 2.655},
          {"t": "13:35", "Tuloilmamäärä mittaus": 3.24, "Poistoilmamäärä mittaus": 2.65},
          {"t": "13:40", "Tuloilmamäärä mittaus": 3.24, "Poistoilmamäärä mittaus": 2.66},
          {"t": "13:45", "Tuloilmamäärä mittaus": 3.24, "Poistoilmamäärä mittaus": 2.675},
          {"t": "13:50", "Tuloilmamäärä mittaus": 3.24, "Poistoilmamäärä mittaus": 2.69},
          {"t": "13:55", "Tuloilmamäärä mittaus": 3.25, "Poistoilmamäärä mittaus": 2.705},
          {"t": "14:00", "Tuloilmamäärä mittaus": 3.25, "Poistoilmamäärä mittaus": 2.715},
          {"t": "14:05", "Tuloilmamäärä mittaus": 3.24, "Poistoilmamäärä mittaus": 2.72},
          {"t": "14:10", "Tuloilmamäärä mittaus": 3.26, "Poistoilmamäärä mittaus": 2.73},
          {"t": "14:15", "Tuloilmamäärä mittaus": 3.27, "Poistoilmamäärä mittaus": 2.75},
          {"t": "14:20", "Tuloilmamäärä mittaus": 3.25, "Poistoilmamäärä mittaus": 2.755},
          {"t": "14:25", "Tuloilmamäärä mittaus": 3.26, "Poistoilmamäärä mittaus": 2.765},
          {"t": "14:30", "Tuloilmamäärä mittaus": 3.25, "Poistoilmamäärä mittaus": 2.755},
          {"t": "14:35", "Tuloilmamäärä mittaus": 3.25, "Poistoilmamäärä mittaus": 2.75},
          {"t": "14:40", "Tuloilmamäärä mittaus": 3.24, "Poistoilmamäärä mittaus": 2.76},
          {"t": "14:45", "Tuloilmamäärä mittaus": 3.25, "Poistoilmamäärä mittaus": 2.745},
          {"t": "14:50", "Tuloilmamäärä mittaus": 3.25, "Poistoilmamäärä mittaus": 2.74},
          {"t": "14:55", "Tuloilmamäärä mittaus": 3.24, "Poistoilmamäärä mittaus": 2.735},
          {"t": "15:00", "Tuloilmamäärä mittaus": 3.25, "Poistoilmamäärä mittaus": 2.745}
        ]
      },
      "transform": [
        {"fold": ["Tuloilmamäärä mittaus", "Poistoilmamäärä mittaus"], "as": ["serie", "arvo"]},
        {"filter": "isValid(datum.arvo)"}
      ],
      "mark": {"type": "line"},
      "encoding": {
        "x": {
          "field": "t", "type": "temporal",
          "scale": {"domain": [{"year": 1900, "month": 1, "date": 1, "hours": 7, "minutes": 7, "seconds": 30}, {"year": 1900, "month": 1, "date": 1, "hours": 15, "minutes": 22, "seconds": 30}]},
          "axis": {"labels": false, "title": null, "values": [{"year": 1900, "month": 1, "date": 1, "hours": 8}, {"year": 1900, "month": 1, "date": 1, "hours": 9}, {"year": 1900, "month": 1, "date": 1, "hours": 10}, {"year": 1900, "month": 1, "date": 1, "hours": 11}, {"year": 1900, "month": 1, "date": 1, "hours": 12}, {"year": 1900, "month": 1, "date": 1, "hours": 13}, {"year": 1900, "month": 1, "date": 1, "hours": 14}, {"year": 1900, "month": 1, "date": 1, "hours": 15}]}
        },
        "y": {
          "field": "arvo", "type": "quantitative",
          "scale": {"domain": [2.532, 3.351], "nice": false, "zero": false},
          "axis": {"title": "m3/s", "values": [2.75, 3.0, 3.25], "format": ".2f"}
        },
        "color": {
          "field": "serie", "type": "nominal",
          "scale": {"domain": ["Tuloilmamäärä mittaus", "Poistoilmamäärä mittaus"], "range": ["#4C72B0", "#55A868"]},
          "legend": {"legendX": 719, "legendY": 11}
        }
      }
    },
    {
      "width": 707,
      "height": 103,
      "data": {
        "format": {"parse": {"t": "date:'%H:%M'"}},
        "values": [
          {"t": "07:30", "Paine-ero mittaus": -1.9, "Paine-ero asetus": 0, "Paine-ero säätö päällä": 0},
          {"t": "07:31", "Paine-ero mittaus": -2.0, "Paine-ero säätö päällä": 1},
          {"t": "07:33", "Paine-ero mittaus": -1.0},
          {"t": "07:34", "Paine-ero mittaus": -1.9},
          {"t": "07:35", "Paine-ero mittaus": -1.5},
          {"t": "07:38", "Paine-ero mittaus": -1.25},
          {"t": "07:41", "Paine-ero mittaus": -1.1},
          {"t": "07:43", "Paine-ero mittaus": -1.2},
          {"t": "07:45", "Paine-ero mittaus": -0.9},
          {"t": "07:48", "Paine-ero mittaus": -0.95},
          {"t": "07:50", "Paine-ero mittaus": -0.8},
          {"t": "07:52", "Paine-ero mittaus": -0.6},
          {"t": "07:54", "Paine-ero mittaus": -0.5},
          {"t": "07:56", "Paine-ero mittaus": -0.1},
          {"t": "07:59", "Paine-ero mittaus": 0.25},
          {"t": "08:01", "Paine-ero mittaus": -0.25},
          {"t": "08:04", "Paine-ero mittaus": 0.0},
          {"t": "08:07", "Paine-ero mittaus": -0.25},
          {"t": "08:09", "Paine-ero mittaus": -0.5},
          {"t": "08:11", "Paine-ero mittaus": -0.1},
          {"t": "08:13", "Paine-ero mittaus": -1.0},
          {"t": "08:15", "Paine-ero mittaus": -0.5},
          {"t": "08:18", "Paine-ero mittaus": -0.6},
          {"t": "08:21", "Paine-ero mittaus": 0.25},
          {"t": "08:23", "Paine-ero mittaus": 0.0},
          {"t": "08:25", "Paine-ero mittaus": -0.25},
          {"t": "08:27", "Paine-ero mittaus": 0.4},
          {"t": "08:30", "Paine-ero mittaus": 0.2},
          {"t": "08:32", "Paine-ero mittaus": 0.5},
          {"t": "08:35", "Paine-ero mittaus": 0.25},
          {"t": "08:37", "Paine-ero mittaus": 0.6},
          {"t": "08:39", "Paine-ero mittaus": 0.75},
          {"t": "08:41", "Paine-ero mittaus": -0.25},
          {"t": "08:43", "Paine-ero mittaus": 0.5},
          {"t": "08:46", "Paine-ero mittaus": 1.4},
          {"t": "08:48", "Paine-ero mittaus": 0.9},
          {"t": "08:50", "Paine-ero mittaus": 0.5},
          {"t": "08:53", "Paine-ero mittaus": 0.75},
          {"t": "08:55", "Paine-ero mittaus": 0.7},
          {"t": "08:56", "Paine-ero mittaus": 0.4},
          {"t": "08:58", "Paine-ero mittaus": -0.6},
          {"t": "09:00", "Paine-ero mittaus": 1.25},
          {"t": "09:02", "Paine-ero mittaus": 1.4},
          {"t": "09:04", "Paine-ero mittaus": 0.75},
          {"t": "09:06", "Paine-ero mittaus": 0.5},
          {"t": "09:08", "Paine-ero mittaus": 0.9},
          {"t": "09:11", "Paine-ero mittaus": 0.25},
          {"t": "09:13", "Paine-ero mittaus": 0.7},
          {"t": "09:15", "Paine-ero mittaus": 0.4},
          {"t": "09:17", "Paine-ero mittaus": -0.1},
          {"t": "09:19", "Paine-ero mittaus": -0.6},
          {"t": "09:21", "Paine-ero mittaus": -0.4},
          {"t": "09:24", "Paine-ero mittaus": 1.0},
          {"t": "09:26", "Paine-ero mittaus": 0.5},
          {"t": "09:28", "Paine-ero mittaus": 0.7},
          {"t": "09:31", "Paine-ero mittaus": 0.5},
          {"t": "09:33", "Paine-ero mittaus": 0.3},
          {"t": "09:35", "Paine-ero mittaus": 0.1},
          {"t": "09:37", "Paine-ero mittaus": 0.6},
          {"t": "09:39", "Paine-ero mittaus": 0.4},
          {"t": "09:42", "Paine-ero mittaus": 0.3},
          {"t": "09:45", "Paine-ero mittaus": 0.5},
          {"t": "09:47", "Paine-ero mittaus": 0.8},
          {"t": "09:50", "Paine-ero mittaus": 0.75},
          {"t": "09:52", "Paine-ero mittaus": 0.4},
          {"t": "09:54", "Paine-ero mittaus": 0.5},
          {"t": "09:56", "Paine-ero mittaus": 0.6},
          {"t": "09:58", "Paine-ero mittaus": 0.1},
          {"t": "10:01", "Paine-ero mittaus": 0.3},
          {"t": "10:04", "Paine-ero mittaus": 0.6},
          {"t": "10:06", "Paine-ero mittaus": 0.5},
          {"t": "10:09", "Paine-ero mittaus": 0.75},
          {"t": "10:11", "Paine-ero mittaus": 0.9},
          {"t": "10:13", "Paine-ero mittaus": 0.5},
          {"t": "10:15", "Paine-ero mittaus": 0.6},
          {"t": "10:18", "Paine-ero mittaus": 0.9},
          {"t": "10:20", "Paine-ero mittaus": 0.4},
          {"t": "10:23", "Paine-ero mittaus": 0.6},
          {"t": "10:25", "Paine-ero mittaus": 0.8},
          {"t": "10:27", "Paine-ero mittaus": 0.5},
          {"t": "10:29", "Paine-ero mittaus": 0.7},
          {"t": "10:32", "Paine-ero mittaus": 0.9},
          {"t": "10:35", "Paine-ero mittaus": 0.5},
          {"t": "10:37", "Paine-ero mittaus": 0.8},
          {"t": "10:39", "Paine-ero mittaus": 1.4},
          {"t": "10:41", "Paine-ero mittaus": 0.6},
          {"t": "10:43", "Paine-ero mittaus": 0.5},
          {"t": "10:46", "Paine-ero mittaus": 0.75},
          {"t": "10:48", "Paine-ero mittaus": 0.9},
          {"t": "10:51", "Paine-ero mittaus": 0.1},
          {"t": "10:53", "Paine-ero mittaus": 0.5},
          {"t": "10:55", "Paine-ero mittaus": 0.75},
          {"t": "10:58", "Paine-ero mittaus": 0.6},
          {"t": "11:00", "Paine-ero mittaus": 0.9},
          {"t": "11:03", "Paine-ero mittaus": 0.6},
          {"t": "11:05", "Paine-ero mittaus": 1.0},
          {"t": "11:07", "Paine-ero mittaus": 0.75},
          {"t": "11:10", "Paine-ero mittaus": 0.5},
          {"t": "11:13", "Paine-ero mittaus": 0.9},
          {"t": "11:15", "Paine-ero mittaus": 0.7},
          {"t": "11:17", "Paine-ero mittaus": 0.5},
          {"t": "11:20", "Paine-ero mittaus": 0.6},
          {"t": "11:23", "Paine-ero mittaus": 0.25},
          {"t": "11:26", "Paine-ero mittaus": 0.8},
          {"t": "11:28", "Paine-ero mittaus": 0.4},
          {"t": "11:30", "Paine-ero mittaus": 0.6},
          {"t": "11:32", "Paine-ero mittaus": 0.9},
          {"t": "11:34", "Paine-ero mittaus": 0.75},
          {"t": "11:36", "Paine-ero mittaus": 0.5},
          {"t": "11:39", "Paine-ero mittaus": 0.6},
          {"t": "11:41", "Paine-ero mittaus": 0.8},
          {"t": "11:44", "Paine-ero mittaus": 0.6},
          {"t": "11:46", "Paine-ero mittaus": 0.5},
          {"t": "11:48", "Paine-ero mittaus": 0.75},
          {"t": "11:50", "Paine-ero mittaus": 0.6},
          {"t": "11:53", "Paine-ero mittaus": 0.9},
          {"t": "11:55", "Paine-ero mittaus": 0.6},
          {"t": "11:58", "Paine-ero mittaus": 0.75},
          {"t": "12:01", "Paine-ero mittaus": 0.9},
          {"t": "12:03", "Paine-ero mittaus": 0.7},
          {"t": "12:05", "Paine-ero mittaus": 0.6},
          {"t": "12:07", "Paine-ero mittaus": -0.25},
          {"t": "12:11", "Paine-ero mittaus": -0.1},
          {"t": "12:13", "Paine-ero mittaus": 0.25},
          {"t": "12:15", "Paine-ero mittaus": -0.6},
          {"t": "12:18", "Paine-ero mittaus": 0.4},
          {"t": "12:21", "Paine-ero mittaus": -1.0},
          {"t": "12:23", "Paine-ero mittaus": -0.5},
          {"t": "12:26", "Paine-ero mittaus": -0.25},
          {"t": "12:29", "Paine-ero mittaus": 0.1},
          {"t": "12:32", "Paine-ero mittaus": 0.5},
          {"t": "12:34", "Paine-ero mittaus": 0.1},
          {"t": "12:37", "Paine-ero mittaus": 1.1},
          {"t": "12:40", "Paine-ero mittaus": 0.5},
          {"t": "12:43", "Paine-ero mittaus": -0.1},
          {"t": "12:47", "Paine-ero mittaus": 0.5},
          {"t": "12:50", "Paine-ero mittaus": 1.5},
          {"t": "12:53", "Paine-ero mittaus": 0.75},
          {"t": "12:55", "Paine-ero mittaus": -0.5},
          {"t": "12:56", "Paine-ero mittaus": -1.75},
          {"t": "12:58", "Paine-ero mittaus": -2.6},
          {"t": "13:00", "Paine-ero mittaus": -2.9},
          {"t": "13:02", "Paine-ero mittaus": -1.0},
          {"t": "13:04", "Paine-ero mittaus": -3.1},
          {"t": "13:07", "Paine-ero mittaus": -1.0},
          {"t": "13:09", "Paine-ero mittaus": -1.4},
          {"t": "13:11", "Paine-ero mittaus": -1.0},
          {"t": "13:14", "Paine-ero mittaus": -3.25},
          {"t": "13:15", "Paine-ero mittaus": -3.75},
          {"t": "13:17", "Paine-ero mittaus": -1.5},
          {"t": "13:19", "Paine-ero mittaus": -0.4},
          {"t": "13:22", "Paine-ero mittaus": -0.5},
          {"t": "13:24", "Paine-ero mittaus": -2.25},
          {"t": "13:26", "Paine-ero mittaus": -3.5},
          {"t": "13:28", "Paine-ero mittaus": -2.0},
          {"t": "13:30", "Paine-ero mittaus": 0.75},
          {"t": "13:32", "Paine-ero mittaus": 1.9},
          {"t": "13:33", "Paine-ero mittaus": 0.75},
          {"t": "13:36", "Paine-ero mittaus": 1.5},
          {"t": "13:38", "Paine-ero mittaus": 2.1},
          {"t": "13:40", "Paine-ero mittaus": 1.9},
          {"t": "13:43", "Paine-ero mittaus": 2.9},
          {"t": "13:45", "Paine-ero mittaus": 2.0},
          {"t": "13:47", "Paine-ero mittaus": 3.0},
          {"t": "13:50", "Paine-ero mittaus": 1.5},
          {"t": "13:52", "Paine-ero mittaus": 2.75},
          {"t": "13:54", "Paine-ero mittaus": 1.75},
          {"t": "13:57", "Paine-ero mittaus": 1.5},
          {"t": "13:59", "Paine-ero mittaus": 0.75},
          {"t": "14:01", "Paine-ero mittaus": -1.25},
          {"t": "14:04", "Paine-ero mittaus": 0.0},
          {"t": "14:06", "Paine-ero mittaus": 1.0},
          {"t": "14:09", "Paine-ero mittaus": -1.6},
          {"t": "14:11", "Paine-ero mittaus": 0.5},
          {"t": "14:13", "Paine-ero mittaus": 3.25},
          {"t": "14:16", "Paine-ero mittaus": 2.0},
          {"t": "14:18", "Paine-ero mittaus": 1.25},
          {"t": "14:20", "Paine-ero mittaus": 2.25},
          {"t": "14:23", "Paine-ero mittaus": 0.0},
          {"t": "14:25", "Paine-ero mittaus": -0.75},
          {"t": "14:27", "Paine-ero mittaus": 0.5},
          {"t": "14:30", "Paine-ero mittaus": -0.75},
          {"t": "14:32", "Paine-ero mittaus": -1.9},
          {"t": "14:34", "Paine-ero mittaus": 0.25},
          {"t": "14:37", "Paine-ero mittaus": 1.0},
          {"t": "14:39", "Paine-ero mittaus": 0.25},
          {"t": "14:41", "Paine-ero mittaus": -0.5},
          {"t": "14:44", "Paine-ero mittaus": 0.9},
          {"t": "14:46", "Paine-ero mittaus": -1.75},
          {"t": "14:48", "Paine-ero mittaus": 1.75},
          {"t": "14:51", "Paine-ero mittaus": 2.0},
          {"t": "14:52", "Paine-ero mittaus": -1.25},
          {"t": "14:54", "Paine-ero mittaus": 0.0},
          {"t": "14:55", "Paine-ero säätö päällä": 1},
          {"t": "14:56", "Paine-ero mittaus": -0.5, "Paine-ero säätö päällä": 0},
          {"t": "14:58", "Paine-ero mittaus": 2.75},
          {"t": "14:59", "Paine-ero mittaus": 1.0},
          {"t": "15:00", "Paine-ero mittaus": -0.75, "Paine-ero asetus": 0, "Paine-ero säätö päällä": 0}
        ]
      },
      "transform": [
        {"fold": ["Paine-ero mittaus", "Paine-ero asetus", "Paine-ero säätö päällä"], "as": ["serie", "arvo"]},
        {"filter": "isValid(datum.arvo)"}
      ],
      "mark": {"type": "line"},
      "encoding": {
        "x": {
          "field": "t", "type": "temporal",
          "scale": {"domain": [{"year": 1900, "month": 1, "date": 1, "hours": 7, "minutes": 7, "seconds": 30}, {"year": 1900, "month": 1, "date": 1, "hours": 15, "minutes": 22, "seconds": 30}]},
          "axis": {
            "format": "%H:%M",
            "labelPadding": 9,
            "title": "2021-Apr-21",
            "titleAnchor": "end",
            "titlePadding": 2,
            "values": [{"year": 1900, "month": 1, "date": 1, "hours": 8}, {"year": 1900, "month": 1, "date": 1, "hours": 9}, {"year": 1900, "month": 1, "date": 1, "hours": 10}, {"year": 1900, "month": 1, "date": 1, "hours": 11}, {"year": 1900, "month": 1, "date": 1, "hours": 12}, {"year": 1900, "month": 1, "date": 1, "hours": 13}, {"year": 1900, "month": 1, "date": 1, "hours": 14}, {"year": 1900, "month": 1, "date": 1, "hours": 15}]
          }
        },
        "y": {
          "field": "arvo", "type": "quantitative",
          "scale": {"domain": [-4.15, 3.77], "nice": false, "zero": false},
          "axis": {"title": "Pa", "values": [-2.5, 0, 2.5], "format": ".1f"}
        },
        "color": {
          "field": "serie", "type": "nominal",
          "scale": {"domain": ["Paine-ero mittaus", "Paine-ero asetus", "Paine-ero säätö päällä"], "range": ["#4C72B0", "#55A868", "#C44E52"]},
          "legend": {"legendX": 719, "legendY": 11}
        }
      }
    }
  ]
}
